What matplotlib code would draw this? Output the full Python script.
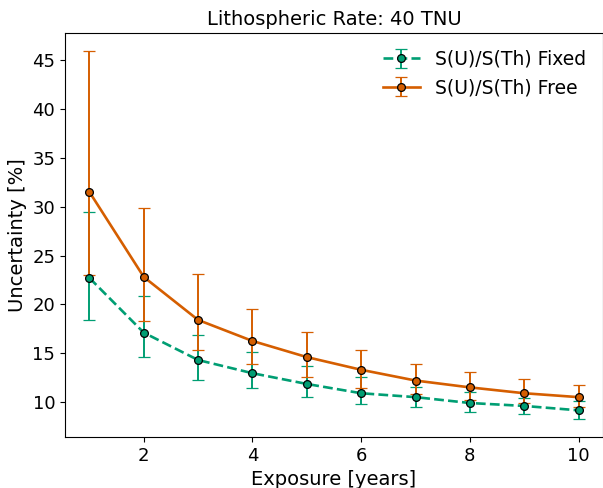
import numpy as np
import matplotlib
matplotlib.use("Agg")
import matplotlib.pyplot as plt

years = [1, 2, 3, 4, 5, 6, 7, 8, 9, 10]

fixed_val = [22.7, 17.1, 14.3, 12.95, 11.85, 10.9, 10.5, 9.9, 9.6, 9.15]
fixed_hi = [29.5, 20.85, 16.85, 15.1, 13.7, 12.55, 11.55, 11.0, 10.4, 10.1]
fixed_lo = [18.4, 14.6, 12.25, 11.4, 10.5, 9.8, 9.5, 9.0, 8.8, 8.3]

free_val = [31.5, 22.8, 18.4, 16.25, 14.6, 13.3, 12.2, 11.5, 10.9, 10.5]
free_hi = [45.9, 29.85, 23.1, 19.5, 17.2, 15.3, 13.9, 13.1, 12.35, 11.75]
free_lo = [23.0, 18.3, 15.3, 13.9, 12.6, 11.4, 10.8, 10.2, 9.9, 9.5]

GREEN = "#009E73"
ORANGE = "#D55E00"


def _err(val, lo, hi):
    v = np.array(val)
    return [v - np.array(lo), np.array(hi) - v]


fig = plt.figure(figsize=(6.03, 4.88), dpi=100)
ax = fig.add_axes([65 / 603, 1 - 437 / 488, 538 / 603, 404 / 488])

ax.errorbar(years, fixed_val, yerr=_err(fixed_val, fixed_lo, fixed_hi),
            color=GREEN, ls="--", lw=1.9, marker="o", ms=5.6,
            mfc=GREEN, mec="black", mew=0.9, capsize=4.3, elinewidth=1.4,
            label="S(U)/S(Th) Fixed")
ax.errorbar(years, free_val, yerr=_err(free_val, free_lo, free_hi),
            color=ORANGE, ls="-", lw=1.9, marker="o", ms=5.6,
            mfc=ORANGE, mec="black", mew=0.9, capsize=4.3, elinewidth=1.4,
            label="S(U)/S(Th) Free")

ax.set_title("Lithospheric Rate: 40 TNU", fontsize=14)
ax.set_xlabel("Exposure [years]", fontsize=14)
ax.set_ylabel("Uncertainty [%]", fontsize=14)
ax.tick_params(labelsize=13)
ax.legend(loc="upper right", frameon=False, fontsize=13.5)

fig.savefig("out.png", dpi=100)
